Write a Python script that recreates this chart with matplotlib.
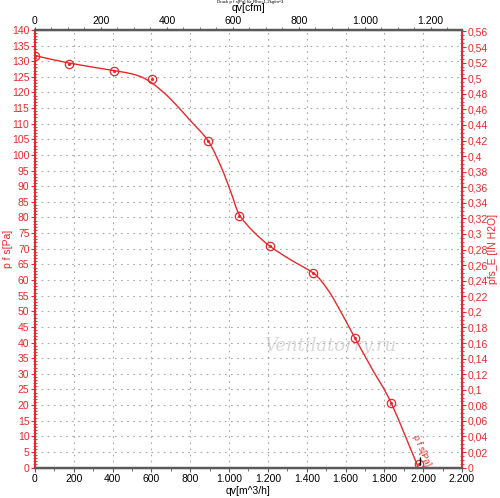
import numpy as np
import matplotlib.pyplot as plt
from matplotlib.path import Path
from matplotlib.patches import PathPatch
from matplotlib.ticker import MultipleLocator, FuncFormatter

plt.rcParams['font.family'] = ['Liberation Sans', 'DejaVu Sans']

# curve: volume flow [m^3/h] vs static pressure [Pa]
curve_q = [0, 175, 405, 500, 560, 620, 700, 800, 892, 960, 1010, 1052,
           1125, 1211, 1314, 1430, 1480, 1540, 1649, 1740, 1835, 1975]
curve_p = [131.8, 129.4, 127.0, 125.9, 124.6, 122.2, 117.8, 111.0, 104.5, 96.0, 88.0, 81.0,
           75.5, 70.8, 66.6, 62.4, 59.3, 53.8, 41.4, 31.2, 20.7, 0.0]

# measured points (circles)
meas_q = [0, 175, 405, 605, 890, 1052, 1211, 1430, 1649, 1835, 1978]
meas_p = [131.6, 129.1, 127.0, 124.3, 104.6, 80.6, 70.8, 62.4, 41.4, 20.7, 1.0]

red = '#e8282a'
CFM = 1.699    # m^3/h per cfm
INH2O = 249.09  # Pa per inch H2O


def fmt_num(v, pos=None):
    if abs(v - round(v)) < 1e-9:
        s = f"{int(round(v)):,}".replace(',', '.')
    else:
        s = f"{v:.2f}".rstrip('0').rstrip('.').replace('.', ',')
    return s


def smooth_path(xs, ys):
    # catmull-rom through the read points, drawn as cubic bezier segments
    verts = [(xs[0], ys[0])]
    codes = [Path.MOVETO]
    n = len(xs)
    for i in range(n - 1):
        x0, y0 = (xs[i - 1], ys[i - 1]) if i > 0 else (xs[i], ys[i])
        x1, y1 = xs[i], ys[i]
        x2, y2 = xs[i + 1], ys[i + 1]
        x3, y3 = (xs[i + 2], ys[i + 2]) if i + 2 < n else (x2, y2)
        c1 = (x1 + (x2 - x0) / 6, y1 + (y2 - y0) / 6)
        c2 = (x2 - (x3 - x1) / 6, y2 - (y3 - y1) / 6)
        verts += [c1, c2, (x2, y2)]
        codes += [Path.CURVE4] * 3
    return Path(verts, codes)


fig = plt.figure(figsize=(5, 4.98), dpi=100)
ax = fig.add_axes([0.07, 0.061, 0.854, 0.879])

ax.add_patch(PathPatch(smooth_path(curve_q, curve_p), fill=False,
                       edgecolor=red, lw=1.0, zorder=3))
ax.plot(meas_q, meas_p, 'o', ms=6, mfc='none', mec=red, mew=0.9, zorder=4)
ax.plot(meas_q, meas_p, '.', ms=2.5, color=red, zorder=4)

ax.set_xlim(0, 2200)
ax.set_ylim(0, 140)
ax.xaxis.set_major_locator(MultipleLocator(200))
ax.xaxis.set_minor_locator(MultipleLocator(100))
ax.yaxis.set_major_locator(MultipleLocator(5))
ax.yaxis.set_minor_locator(MultipleLocator(1))
ax.xaxis.set_major_formatter(FuncFormatter(fmt_num))
ax.grid(True, which='major', linestyle=(0, (1.5, 4)), color='#a8a8a8', lw=0.8)

ax.tick_params(axis='x', labelsize=7.5, length=3, width=0.8, color='#606060', pad=1.5)
ax.tick_params(axis='x', which='minor', length=2, color='#606060')
ax.tick_params(axis='y', labelsize=7.5, colors=red, length=3, width=0.8, pad=1)
ax.tick_params(axis='y', which='minor', length=3, direction='inout', color=red)

ax.set_xlabel('qv[m^3/h]', fontsize=7.5)
ax.xaxis.set_label_coords(0.5, -0.042)
ax.set_ylabel('p f s[Pa]', fontsize=7.5, color=red)
ax.yaxis.set_label_coords(-0.052, 0.5)

# top axis in cfm
axt = ax.twiny()
axt.set_xlim(0, 2200 / CFM)
axt.xaxis.set_major_locator(MultipleLocator(200))
axt.xaxis.set_minor_locator(MultipleLocator(50))
axt.xaxis.set_major_formatter(FuncFormatter(fmt_num))
axt.tick_params(axis='x', labelsize=7.5, length=2.5, width=0.8, color='#606060', pad=0.5)
axt.tick_params(axis='x', which='minor', length=2, color='#606060')
axt.set_xlabel('qv[cfm]', fontsize=7.5)
axt.xaxis.set_label_coords(0.5, 1.042)

# right axis in inch H2O
axr = ax.twinx()
axr.set_ylim(0, 140 / INH2O)
axr.yaxis.set_major_locator(MultipleLocator(0.02))
axr.yaxis.set_minor_locator(MultipleLocator(0.005))
axr.yaxis.set_major_formatter(FuncFormatter(fmt_num))
axr.tick_params(axis='y', labelsize=7.5, colors=red, length=3, width=0.8, pad=1)
axr.tick_params(axis='y', which='minor', length=3, direction='inout', color=red)
axr.set_ylabel('pfs_E [IN H2O]', fontsize=7.5, color=red, rotation=90)
axr.yaxis.set_label_coords(1.06, 0.5)
for a in (axt, axr):
    for side in ['bottom', 'top']:
        a.spines[side].set_color('#5a5a5a')
        a.spines[side].set_linewidth(1.6)
    a.spines['left'].set_color(red)
    a.spines['left'].set_linewidth(1.4)
    a.spines['right'].set_color(red)
    a.spines['right'].set_linewidth(1.4)

fig.text(0.5, 0.995, 'Druck p f s[Pa] für Rho=1,2kg/m^3', fontsize=3.2,
         ha='center', va='center')

# curve label along the line end
ax.text(1992, 5.5, 'p f s[Pa]', color=red, fontsize=6.5, rotation=-67,
        ha='center', va='center', zorder=5)
ax.plot([1985], [2.0], marker='|', color='black', ms=6, mew=1.0, zorder=6)

# watermark
ax.text(1521, 39, 'Ventilatorry.ru', fontsize=13, style='italic',
        family=['DejaVu Serif'], color='#c8c8c8', alpha=0.7,
        ha='center', va='center', zorder=1)

fig.savefig('out.png', dpi=100)
